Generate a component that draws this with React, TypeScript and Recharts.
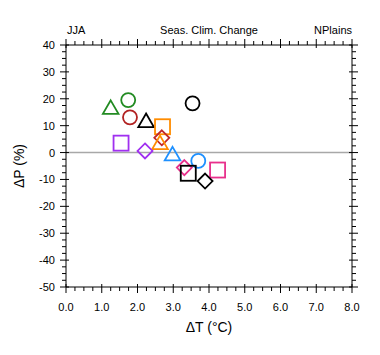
import { ScatterChart, Scatter, XAxis, YAxis, ReferenceLine } from 'recharts';

// Seasonal climate change, JJA, NPlains region
const dT = [1.25, 1.74, 1.79, 2.24, 3.54, 2.7, 2.68, 2.63, 1.54, 2.21, 2.98, 3.7, 3.31, 3.42, 4.24, 3.89];
const dP = [16.8, 19.5, 13.1, 11.9, 18.3, 9.6, 5.5, 3.7, 3.5, 0.6, -0.5, -3.1, -5.6, -7.7, -6.5, -10.6];
const markers = [
  'triangle', 'circle', 'circle', 'triangle', 'circle', 'square', 'diamond', 'triangle',
  'square', 'diamond', 'triangle', 'circle', 'diamond', 'square', 'square', 'diamond',
];
const colors = [
  '#228B22', '#228B22', '#B22222', '#000000', '#000000', '#FF8C00', '#C0282A', '#FF8C00',
  '#A030F0', '#A030F0', '#1E90FF', '#1E90FF', '#E8308C', '#000000', '#E8308C', '#000000',
];

const xMajor = [0, 1, 2, 3, 4, 5, 6, 7, 8];
const yMajor = [40, 30, 20, 10, 0, -10, -20, -30, -40, -50];

// minor ticks: 3 between each major pair
const xTicks = xMajor.flatMap((v, i) => (i === 0 ? [v] : [v - 0.75, v - 0.5, v - 0.25, v]));
const yTicks = yMajor.flatMap((v, i) => (i === 0 ? [v] : [v + 7.5, v + 5, v + 2.5, v]));

const data = dT.map((x, i) => ({ x, y: dP[i], marker: markers[i], color: colors[i] }));

const FONT = '"Liberation Sans", Arial, Helvetica, sans-serif';

function Marker(props: any) {
  const { cx, cy, payload } = props;
  const c = payload.color;
  const sw = 1.8;
  if (payload.marker === 'circle') {
    return <circle cx={cx} cy={cy} r={7} fill="none" stroke={c} strokeWidth={sw} />;
  }
  if (payload.marker === 'square') {
    return <rect x={cx - 7.5} y={cy - 7.5} width={15} height={15} fill="none" stroke={c} strokeWidth={sw} />;
  }
  if (payload.marker === 'diamond') {
    return (
      <polygon
        points={`${cx},${cy - 7.5} ${cx + 7.5},${cy} ${cx},${cy + 7.5} ${cx - 7.5},${cy}`}
        fill="none"
        stroke={c}
        strokeWidth={sw}
      />
    );
  }
  return (
    <polygon
      points={`${cx},${cy - 7} ${cx + 7.8},${cy + 6.5} ${cx - 7.8},${cy + 6.5}`}
      fill="none"
      stroke={c}
      strokeWidth={sw}
    />
  );
}

function isMajor(v: number, step: number) {
  return Math.abs(v / step - Math.round(v / step)) < 1e-6;
}

function HTick(props: any) {
  const { x, y, payload, side } = props;
  const v = payload.value;
  const major = isMajor(v, 1);
  const dir = side === 'bottom' ? 1 : -1;
  return (
    <g>
      <line
        x1={x}
        x2={x}
        y1={y - dir * (major ? 3 : 0)}
        y2={y + dir * (major ? 6 : 4)}
        stroke="#000"
        strokeWidth={1}
      />
      {side === 'bottom' && major && (
        <text x={x} y={y + 24} textAnchor="middle" fontSize={11} fontFamily={FONT} fill="#000">
          {v.toFixed(1)}
        </text>
      )}
    </g>
  );
}

function VTick(props: any) {
  const { x, y, payload, side } = props;
  const v = payload.value;
  const major = isMajor(v, 10);
  const dir = side === 'left' ? -1 : 1;
  return (
    <g>
      <line
        x1={x - dir * (major ? 3 : 0)}
        x2={x + dir * (major ? 6 : 4)}
        y1={y}
        y2={y}
        stroke="#000"
        strokeWidth={1}
      />
      {side === 'left' && major && (
        <text x={x - 11} y={y + 4} textAnchor="end" fontSize={11} fontFamily={FONT} fill="#000">
          {v}
        </text>
      )}
    </g>
  );
}

export default function App() {
  return (
    <div style={{ position: 'absolute', left: 0, top: 0, width: 380, height: 355, background: '#fff' }}>
      <ScatterChart width={380} height={355} margin={{ top: 44, right: 27, bottom: 67, left: 65 }}>
        <XAxis
          xAxisId="b"
          type="number"
          dataKey="x"
          domain={[0, 8]}
          ticks={xTicks}
          interval={0}
          height={1}
          tickSize={0}
          tickMargin={0}
          tickLine={false}
          axisLine={{ stroke: '#000' }}
          tick={<HTick side="bottom" />}
        />
        <XAxis
          xAxisId="t"
          orientation="top"
          type="number"
          dataKey="x"
          domain={[0, 8]}
          ticks={xTicks}
          interval={0}
          height={1}
          tickSize={0}
          tickMargin={0}
          tickLine={false}
          axisLine={{ stroke: '#000' }}
          tick={<HTick side="top" />}
        />
        <YAxis
          yAxisId="l"
          type="number"
          dataKey="y"
          domain={[-50, 40]}
          ticks={yTicks}
          interval={0}
          width={1}
          tickSize={0}
          tickMargin={0}
          tickLine={false}
          axisLine={{ stroke: '#000' }}
          tick={<VTick side="left" />}
        />
        <YAxis
          yAxisId="r"
          orientation="right"
          type="number"
          dataKey="y"
          domain={[-50, 40]}
          ticks={yTicks}
          interval={0}
          width={1}
          tickSize={0}
          tickMargin={0}
          tickLine={false}
          axisLine={{ stroke: '#000' }}
          tick={<VTick side="right" />}
        />
        <ReferenceLine xAxisId="b" yAxisId="l" y={0} stroke="#a8a8a8" strokeWidth={1.5} />
        <Scatter xAxisId="b" yAxisId="l" data={data} shape={<Marker />} isAnimationActive={false} />
        <Scatter xAxisId="t" yAxisId="r" data={data} shape={() => null} isAnimationActive={false} />
      </ScatterChart>
      <svg
        width={380}
        height={355}
        style={{ position: 'absolute', left: 0, top: 0, pointerEvents: 'none' }}
        fontFamily={FONT}
      >
        <text x={67} y={34} fontSize={11} fill="#000">JJA</text>
        <text x={209} y={34} fontSize={11} textAnchor="middle" fill="#000">Seas. Clim. Change</text>
        <text x={352} y={34} fontSize={11} textAnchor="end" fill="#000">NPlains</text>
        <text x={209} y={332} fontSize={14} textAnchor="middle" fill="#000">ΔT (°C)</text>
        <text x={24} y={166} fontSize={14} textAnchor="middle" fill="#000" transform="rotate(-90 24 166)">
          ΔP (%)
        </text>
      </svg>
    </div>
  );
}
